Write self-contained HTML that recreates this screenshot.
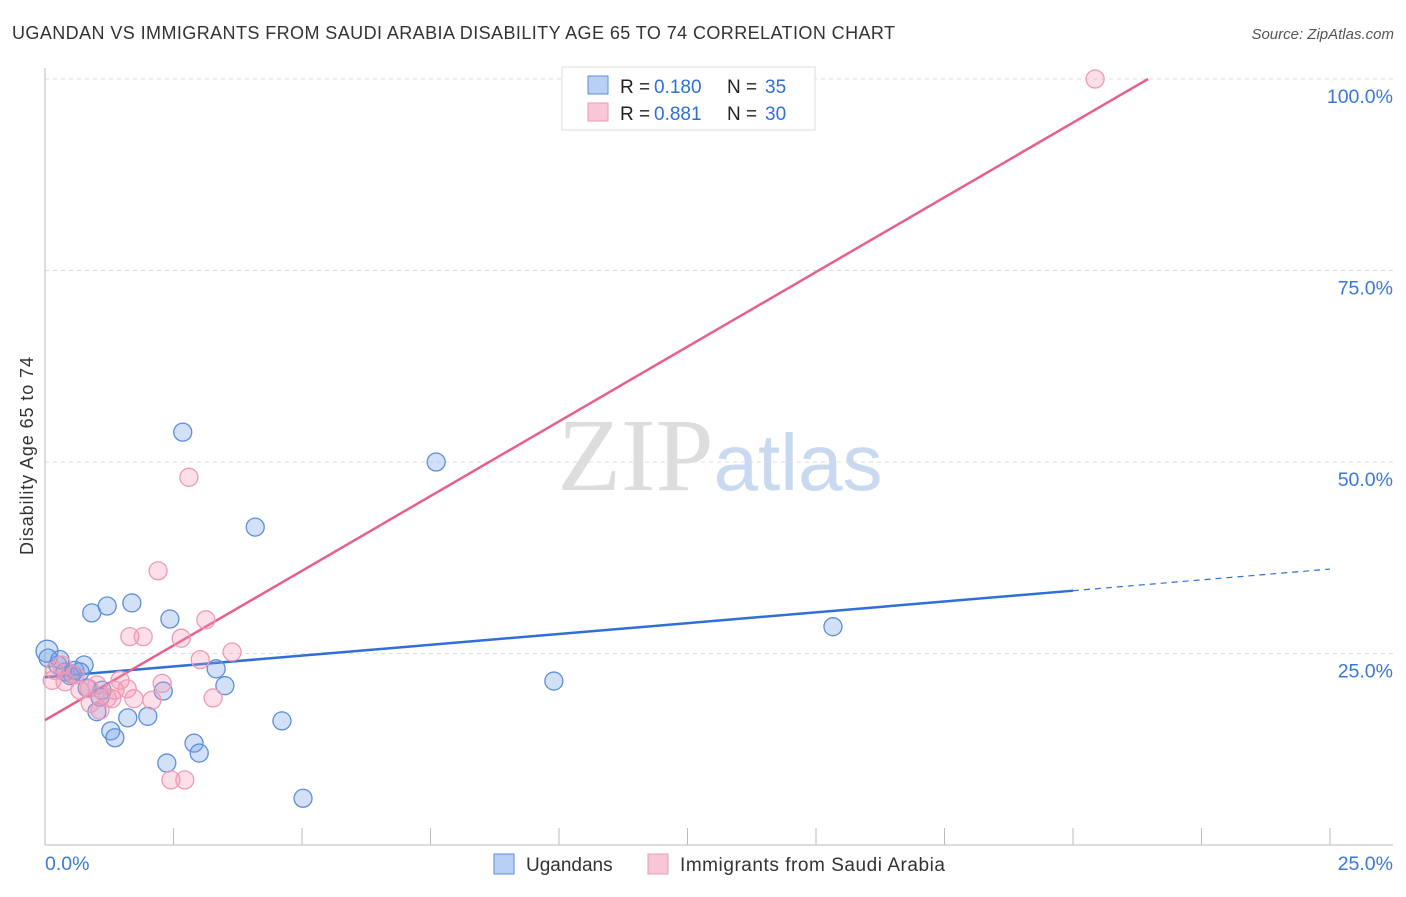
<!DOCTYPE html>
<html><head><meta charset="utf-8"><style>
body{margin:0;background:#fff;font-family:"Liberation Sans",sans-serif;}
svg text{font-family:"Liberation Sans",sans-serif;}
</style></head><body>
<svg id="chart" width="1406" height="892" xmlns="http://www.w3.org/2000/svg">
<text x="12" y="39" font-size="18" fill="#333" textLength="883" lengthAdjust="spacing">UGANDAN VS IMMIGRANTS FROM SAUDI ARABIA DISABILITY AGE 65 TO 74 CORRELATION CHART</text>
<text x="1394" y="39" font-size="15" fill="#555" font-style="italic" text-anchor="end">Source: ZipAtlas.com</text>
<text x="720" y="490" font-size="104" text-anchor="middle"><tspan fill="#ddd" font-family="Liberation Serif">ZIP</tspan><tspan fill="#c9d9ef" font-size="80">atlas</tspan></text>
<text transform="translate(33,456) rotate(-90)" font-size="18" fill="#333" text-anchor="middle" textLength="198" lengthAdjust="spacing">Disability Age 65 to 74</text>
<g id="grid"></g><g id="axes"></g><g id="trend"></g><g id="points"></g>
<g>
<rect x="562" y="67" width="253" height="63" fill="#fff" stroke="#ddd"/>
<rect x="588" y="76" width="20" height="18" fill="#b8d0f3" stroke="#5b8fd9"/>
<text x="620" y="93" font-size="19" fill="#222">R = </text><text x="654" y="93" font-size="19" fill="#2f6fd6">0.180</text>
<text x="727" y="93" font-size="19" fill="#222">N = </text><text x="765" y="93" font-size="19" fill="#2f6fd6">35</text>
<rect x="588" y="103" width="20" height="18" fill="#f8c6d6" stroke="#ef9ab5"/>
<text x="620" y="120" font-size="19" fill="#222">R = </text><text x="654" y="120" font-size="19" fill="#2f6fd6">0.881</text>
<text x="727" y="120" font-size="19" fill="#222">N = </text><text x="765" y="120" font-size="19" fill="#2f6fd6">30</text>
</g>
<g>
<rect x="494" y="854" width="20" height="20" fill="#b8d0f3" stroke="#5b8fd9"/>
<text x="526" y="871" font-size="19" fill="#333">Ugandans</text>
<rect x="648" y="854" width="20" height="20" fill="#f8c6d6" stroke="#ef9ab5"/>
<text x="680" y="871" font-size="19" fill="#333" textLength="265" lengthAdjust="spacing">Immigrants from Saudi Arabia</text>
</g>
</svg>
<script>
const ugX=[0.04,0.06,0.25,0.39,0.53,0.58,0.76,0.91,1.21,1.69,2.43,2.68,4.09,7.61,15.33,9.90,3.33,3.50,2.30,1.11,0.82,1.01,1.28,1.36,1.61,2.00,2.90,3.00,2.37,4.61,5.02,1.07,0.49,0.29,0.68];
const ugY=[25.3,24.4,23.5,22.6,22.3,22.8,23.5,30.3,31.2,31.6,29.5,53.9,41.5,50.0,28.5,21.4,23.0,20.8,20.1,20.2,20.5,17.4,14.9,14.0,16.6,16.8,13.3,12.0,10.7,16.2,6.1,19.3,22.1,24.2,22.6];
const saX=[20.43,2.80,2.20,3.13,1.65,1.91,2.65,3.64,3.02,0.33,0.14,0.39,0.68,0.86,1.01,1.21,1.46,1.60,1.30,1.73,2.08,2.28,3.27,0.88,1.07,2.45,2.72,0.19,0.58,1.36];
const saY=[100.0,48.0,35.8,29.4,27.2,27.2,27.0,25.2,24.2,23.5,21.5,21.3,20.2,20.4,20.9,19.2,21.5,20.4,19.1,19.1,18.9,21.1,19.2,18.5,17.6,8.5,8.5,22.8,22.2,20.2];
const ugTrend=[21.9,33.2];   // y at x=0% and x=20%
const saTrend=[16.3,100.0];  // y at x=0% and x=21.46%
const yTicks=[25,50,75,100];
const yTickLabels=["25.0%","50.0%","75.0%","100.0%"];
const xTickCount=10;

const NS="http://www.w3.org/2000/svg";
const X=v=>45+v/25*1285, Y=v=>845-v/100*766;
function mk(tag,attrs,parent){const e=document.createElementNS(NS,tag);for(const k in attrs)e.setAttribute(k,attrs[k]);document.getElementById(parent).appendChild(e);return e;}
yTicks.forEach((t,i)=>{
 const g=mk('line',{x1:45,x2:1393,y1:Y(t),y2:Y(t),stroke:'#ddd','stroke-dasharray':'4,4'},'grid');
 
 
 const tx=mk('text',{x:1393,y:Y(t)+24,'font-size':19.5,fill:'#3a78d8','text-anchor':'end'},'grid');
 tx.textContent=yTickLabels[i];
 
 
});
const ax=mk('line',{x1:45,x2:1393,y1:845,y2:845,stroke:'#bbb'},'axes');


const ay=mk('line',{x1:45,x2:45,y1:68,y2:845,stroke:'#bbb'},'axes');


for(let i=1;i<=xTickCount;i++){
 const t=mk('line',{x1:X(i*2.5),x2:X(i*2.5),y1:828,y2:845,stroke:'#bbb'},'axes');
 
 
}
const xl0=mk('text',{x:45,y:870,'font-size':19.5,fill:'#3a78d8'},'axes');xl0.textContent='0.0%';


const xl1=mk('text',{x:1393,y:870,'font-size':19.5,fill:'#3a78d8','text-anchor':'end'},'axes');xl1.textContent='25.0%';



const s=(ugTrend[1]-ugTrend[0])/20;
const b1=mk('line',{x1:X(0),y1:Y(ugTrend[0]),x2:X(20),y2:Y(ugTrend[1]),stroke:'#2f6fd6','stroke-width':2.5},'trend');


const b2=mk('line',{x1:X(20),y1:Y(ugTrend[1]),x2:X(25),y2:Y(ugTrend[0]+s*25),stroke:'#2f6fd6','stroke-width':1.2,'stroke-dasharray':'6,5'},'trend');


const p1=mk('line',{x1:X(0),y1:Y(saTrend[0]),x2:X(21.46),y2:Y(saTrend[1]),stroke:'#e8608a','stroke-width':2.5},'trend');



ugX.forEach((x,i)=>{
 const c=mk('circle',{cx:X(x),cy:Y(ugY[i]),r:i===0?11:9,fill:'rgba(120,165,235,0.33)',stroke:'#5b8fd9','stroke-width':1.3},'points');
 
 
});
saX.forEach((x,i)=>{
 const c=mk('circle',{cx:X(x),cy:Y(saY[i]),r:9,fill:'rgba(244,150,180,0.3)',stroke:'#ef9ab5','stroke-width':1.3},'points');
 
 
});
</script>
</body></html>
